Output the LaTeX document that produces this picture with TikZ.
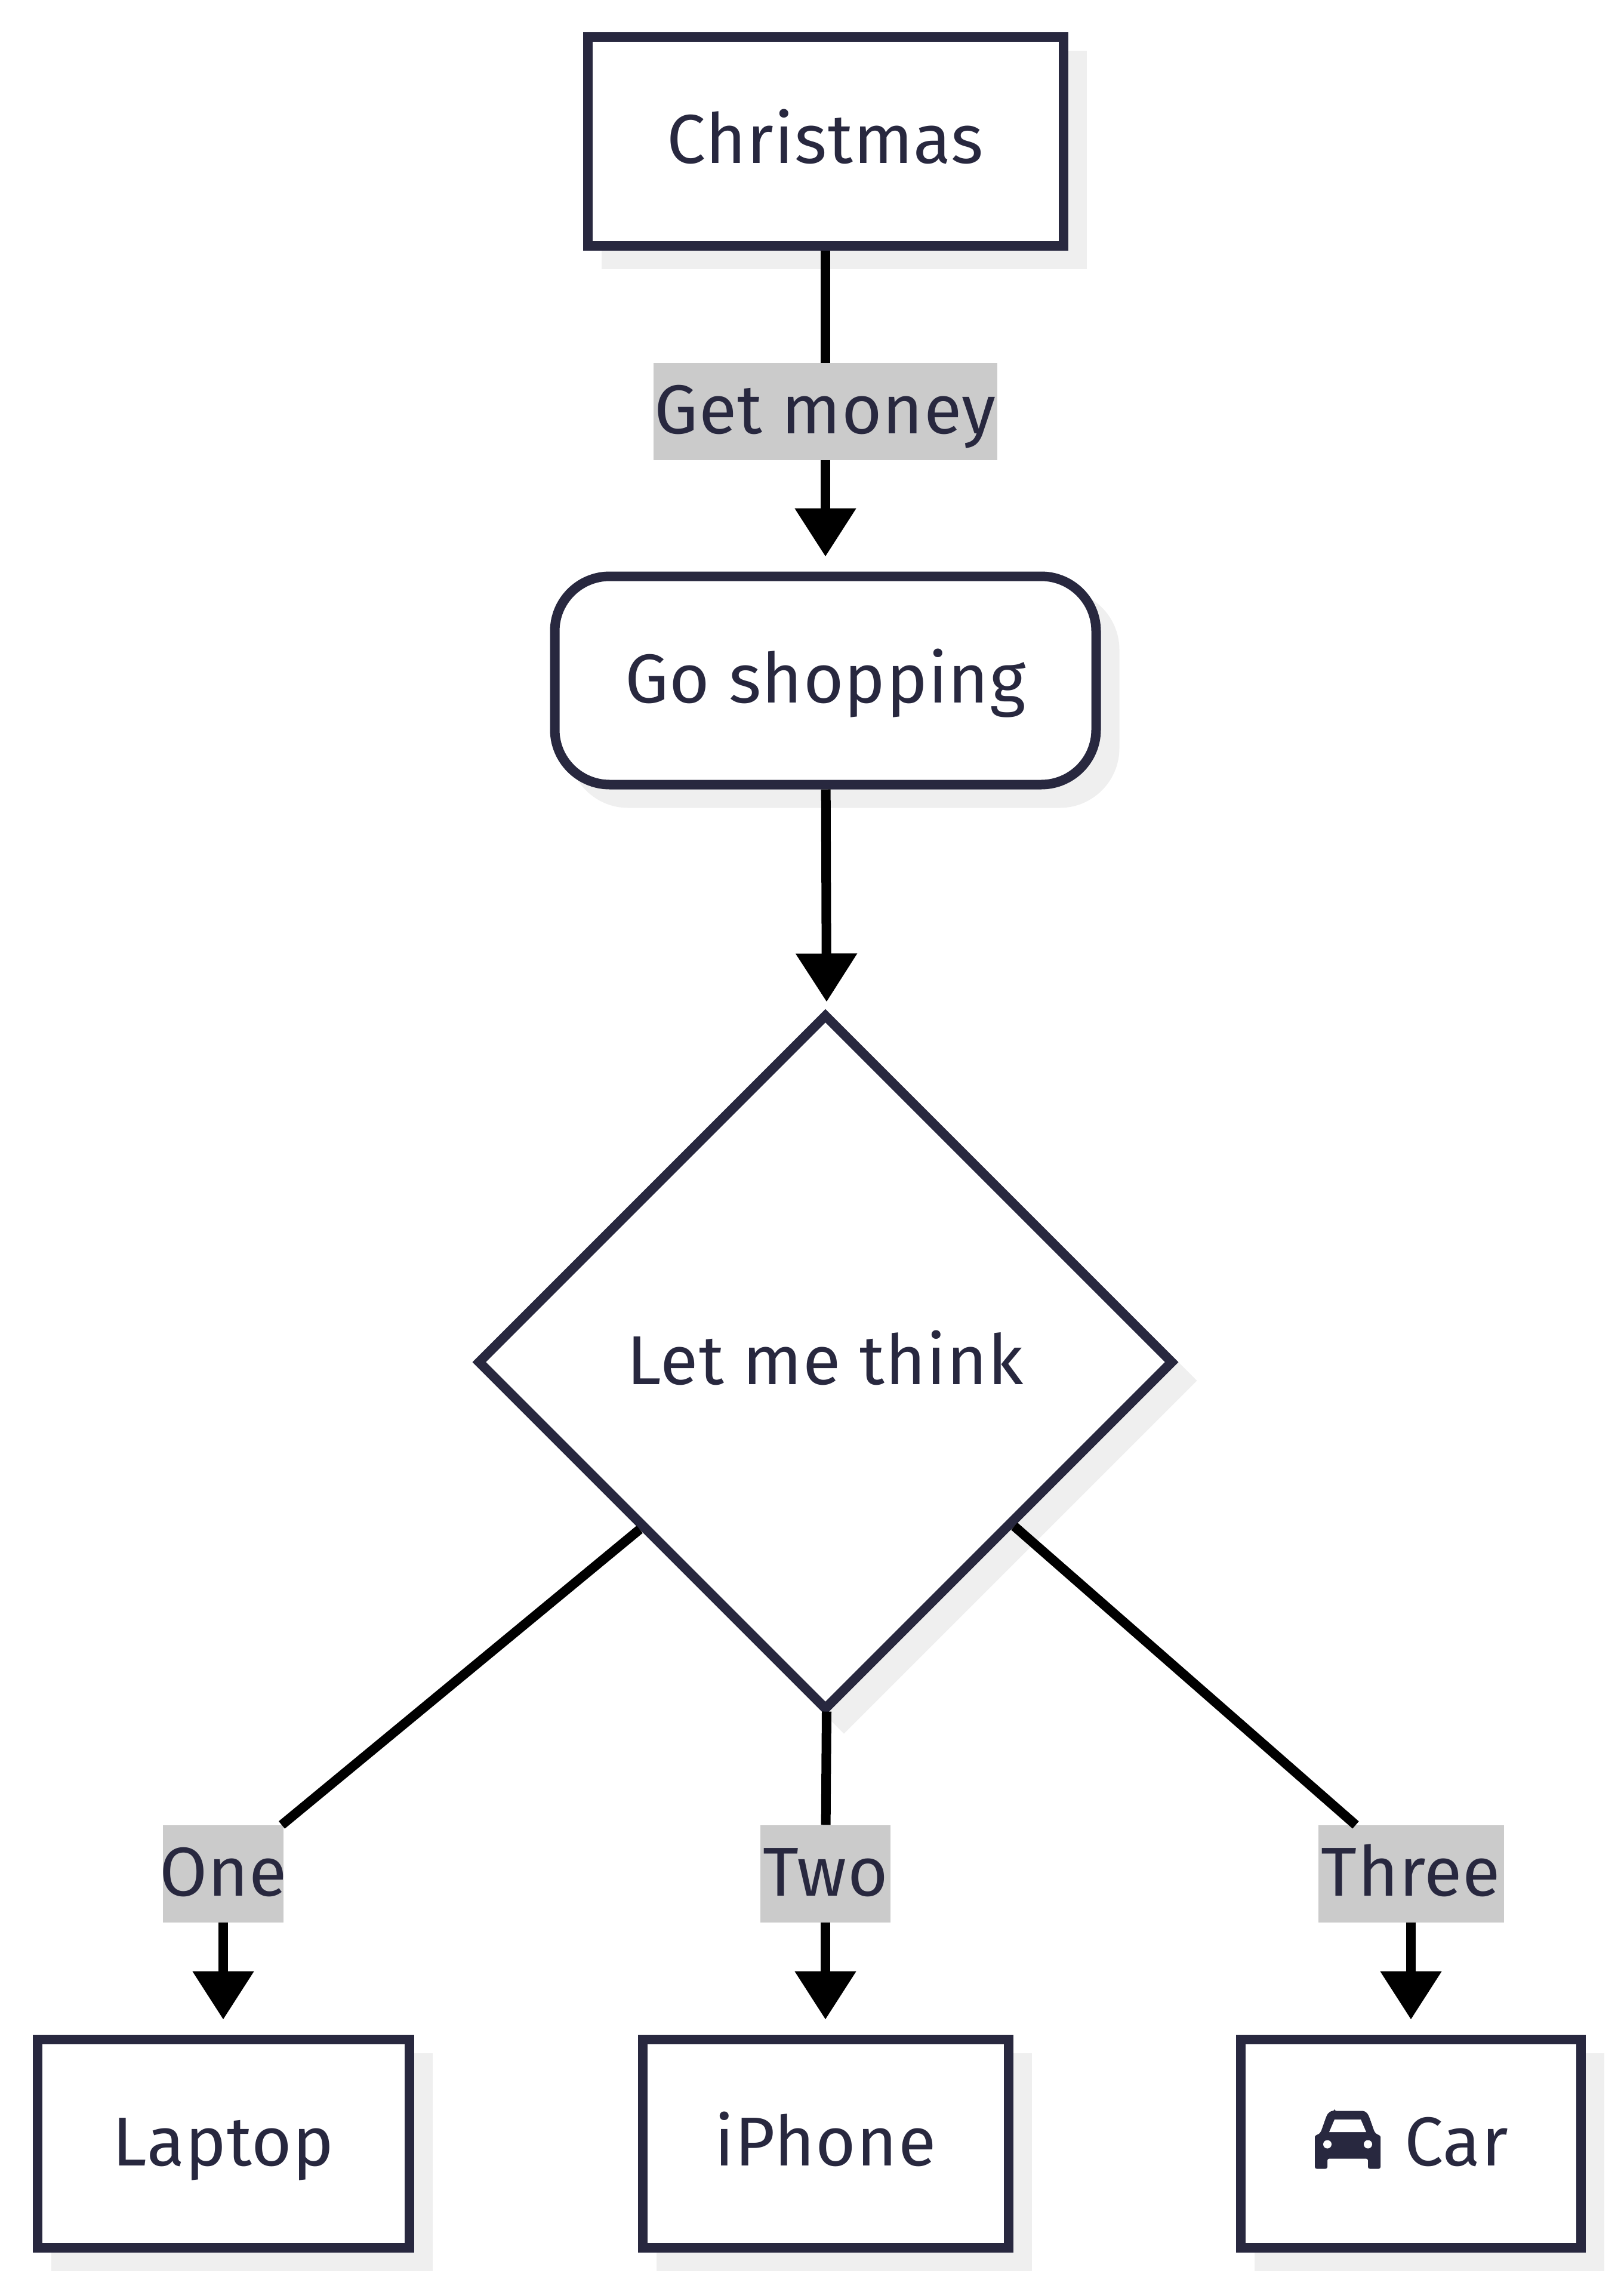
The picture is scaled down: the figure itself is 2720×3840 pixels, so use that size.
\documentclass[tikz,border=0pt]{standalone}
\usepackage{fontspec}
\setmainfont[LetterSpace=1]{Fira Sans}
\usetikzlibrary{arrows.meta,shapes.geometric,shadows}
\definecolor{navy}{HTML}{28283F}
\definecolor{shadowgray}{HTML}{EFEFEF}
\definecolor{labelgray}{HTML}{CBCBCB}

\begin{document}
\begin{tikzpicture}
	[x=1pt,y=1pt,->,>={Triangle[length=81pt,width=99pt]},shorten >=25pt,line width=16pt,
		every node/.style={font=\fontsize{116}{140}\selectfont,text=navy},
		soft shadow/.style={drop shadow={shadow xshift=31pt,shadow yshift=-31pt,fill=shadowgray,draw=shadowgray,opacity=1}},
		box node/.style={rectangle,draw=navy,fill=white,soft shadow,minimum height=349pt,inner sep=0pt,text height=92pt,text depth=18pt},
		round node/.style={box node,rounded corners=92pt},
		think node/.style={diamond,draw=navy,fill=white,soft shadow,aspect=1,minimum size=1167pt,inner sep=0pt,text height=92pt,text depth=18pt},
		label node/.style={rectangle,fill=labelgray,minimum height=163pt,inner sep=0pt,outer sep=0pt,text height=92pt,text depth=18pt}]

	\useasboundingbox (0,0) rectangle (2720,-3840);

	\node[box node, minimum width=797pt] (A) at (1383,-237) {Christmas};
	\node[label node, minimum width=576pt, node distance=452pt] (GM)[below of = A] {Get money};
	\node[round node, minimum width=907pt, node distance=451pt] (B)[below of = GM] {Go shopping};
	\node[think node, node distance=1142pt] (C)[below of = B] {Let me think};
	\node[label node, minimum width=218pt, node distance=857pt] (Two)[below of = C] {Two};
	\node[label node, minimum width=202pt, node distance=1009pt] (One)[left of = Two] {\makebox[0pt]{One}};
	\node[label node, minimum width=311pt, node distance=981pt] (Three)[right of = Two] {Three};
	\node[box node, minimum width=623pt, node distance=452pt] (D)[below of = One] {Laptop};
	\node[box node, minimum width=613pt, node distance=452pt] (E)[below of = Two] {iPhone};
	\node[box node, minimum width=570pt, node distance=452pt] (F)[below of = Three] {\hspace*{152pt}Car};

	\begin{scope}[shift={(F.center)},xshift=-106pt]
		\fill[navy,rounded corners=3pt,-] (-22,54.5) -- (22,54.5) to[out=0,in=115] (36,44.5) -- (45,19)
		to[out=-45,in=90] (55,8) -- (55,-42.5) -- (34,-42.5) -- (34,-25.5) -- (-34,-25.5) -- (-34,-42.5) -- (-55,-42.5) -- (-55,8)
		to[out=90,in=-135] (-45,19) -- (-36,44.5) to[out=65,in=180] cycle;
		\fill[white,-] (-22,40) -- (22,40) -- (31,19) -- (-31,19) -- cycle;
		\fill[white,-] (-34,-1.5) circle (7);
		\fill[white,-] (34,-1.5) circle (7);
	\end{scope}

	\path[]
	(A) edge [-,shorten >=0pt] (GM)
	(GM) edge (B)
	(B) edge [shorten >=12pt] ([xshift=2pt]C.north)
	(C.222) edge [-,shorten >=0pt] (One)
	([xshift=2pt,yshift=6pt]C.south) edge [-,shorten >=0pt] (Two)
	(C.319.2) edge [-,shorten >=0pt] (Three)
	(One) edge (D)
	(Two) edge (E)
	(Three) edge (F)
	;
\end{tikzpicture}
\end{document}
